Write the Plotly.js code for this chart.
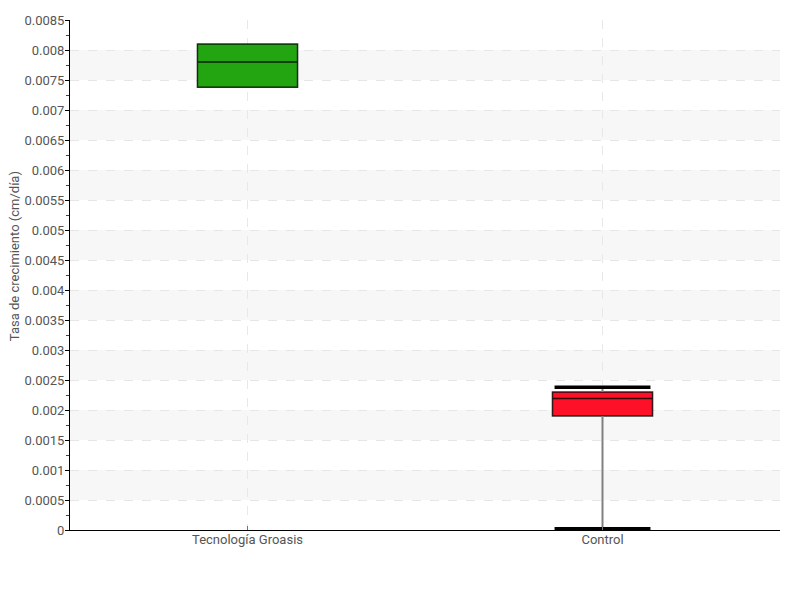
<!DOCTYPE html>
<html>
<head>
<meta charset="utf-8">
<script src="https://cdn.plot.ly/plotly-3.0.1.min.js"></script>
<style>html,body{margin:0;padding:0;background:#fff}</style>
</head>
<body>
<div id="chart" style="width:800px;height:600px"></div>
<script>
// Data
var categories = ['Tecnología Groasis', 'Control'];
var q1Values = [0.00738, 0.0019];
var medianValues = [0.0078, 0.00219];
var q3Values = [0.0081, 0.0023];
var lowerWhisker = [0.00738, 0.00002];
var upperWhisker = [0.0081, 0.00238];
var boxColors = ['#22a511', '#ff1029'];
var yTickStep = 0.0005;
var yMax = 0.0085;
var yTitle = 'Tasa de crecimiento (cm/día)';

var FONT = "Roboto, 'Liberation Sans Narrow', sans-serif";

var traces = [];
for (var i = 0; i < categories.length; i++) {
  traces.push({
    type: 'box',
    name: categories[i],
    x: [categories[i]],
    q1: [q1Values[i]],
    median: [medianValues[i]],
    q3: [q3Values[i]],
    lowerfence: [q1Values[i]],
    upperfence: [q3Values[i]],
    width: 0.282,
    fillcolor: boxColors[i],
    line: {color: 'rgba(0,0,0,0.8)', width: 1.5},
    whiskerwidth: 0,
    boxpoints: false,
    hoverinfo: 'skip',
    showlegend: false
  });
}

// whiskers (gray) outside the box
var wx = [], wy = [];
var capX = [], capY = [];
for (var j = 0; j < categories.length; j++) {
  if (lowerWhisker[j] < q1Values[j]) {
    wx.push(categories[j], categories[j], null);
    wy.push(lowerWhisker[j], q1Values[j], null);
    capX.push(categories[j]); capY.push(lowerWhisker[j]);
  }
  if (upperWhisker[j] > q3Values[j]) {
    wx.push(categories[j], categories[j], null);
    wy.push(q3Values[j], upperWhisker[j], null);
    capX.push(categories[j]); capY.push(upperWhisker[j]);
  }
}
traces.push({
  type: 'scatter', mode: 'lines', x: wx, y: wy,
  line: {color: '#808080', width: 2}, hoverinfo: 'skip', showlegend: false, connectgaps: false
});
traces.push({
  type: 'scatter', mode: 'markers', x: capX, y: capY,
  marker: {symbol: 'line-ew', size: 68.5, color: '#000', line: {color: '#000', width: 3.5}},
  hoverinfo: 'skip', showlegend: false, cliponaxis: false
});

// alternating background bands
var shapes = [];
var nSteps = Math.round(yMax / yTickStep);
for (var k = 1; k < nSteps; k += 2) {
  shapes.push({
    type: 'rect', xref: 'paper', yref: 'y', x0: 0, x1: 1,
    y0: k * yTickStep, y1: (k + 1) * yTickStep,
    fillcolor: '#f7f7f7', line: {width: 0}, layer: 'below'
  });
}

var layout = {
  width: 800, height: 600,
  margin: {l: 70, r: 20, t: 20, b: 70},
  paper_bgcolor: '#fff', plot_bgcolor: 'rgba(0,0,0,0)',
  font: {family: FONT, size: 13, color: '#555'},
  boxmode: 'overlay',
  shapes: shapes,
  annotations: [{
    text: yTitle, xref: 'paper', yref: 'paper', x: 0, y: 0.537,
    xshift: -56, xanchor: 'center', yanchor: 'middle', textangle: -90,
    showarrow: false, font: {family: FONT, size: 13, color: '#555'}
  }],
  xaxis: {
    type: 'category',
    categoryorder: 'array', categoryarray: categories,
    range: [-0.5, 1.5],
    showline: true, linecolor: '#000', linewidth: 1,
    ticks: 'inside', ticklen: 4, tickcolor: '#777',
    ticklabelstandoff: -3,
    showgrid: true, gridcolor: '#e8e8e8', griddash: 'dash', gridwidth: 1,
    zeroline: false,
    tickfont: {family: FONT, size: 13, color: '#555'}
  },
  yaxis: {
    range: [0, yMax], dtick: yTickStep, tick0: 0,
    showline: true, linecolor: '#000', linewidth: 1,
    ticks: 'outside', ticklen: 4, tickcolor: '#000',
    ticklabelstandoff: -2,
    minor: {dtick: yTickStep / 2, ticks: 'outside', ticklen: 3, tickcolor: '#d00', showgrid: false},
    showgrid: true, gridcolor: '#e6e6e6', griddash: 'dash', gridwidth: 1,
    zeroline: false,
    tickfont: {family: FONT, size: 13, color: '#555'}
  }
};

Plotly.newPlot('chart', traces, layout, {displayModeBar: false, staticPlot: true});
</script>
</body>
</html>
